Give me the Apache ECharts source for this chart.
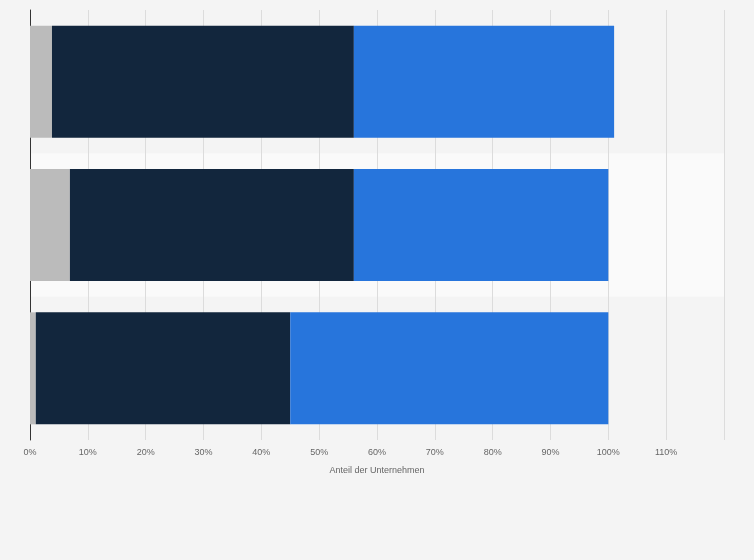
<!DOCTYPE html>
<html><head><meta charset="utf-8">
<script src="https://cdn.jsdelivr.net/npm/echarts@6/dist/echarts.min.js"></script>
<style>html,body{margin:0;padding:0;background:#f4f4f4}#c{width:754px;height:560px}</style>
</head><body><div id="c"></div>
<script>
const categories = ['C', 'B', 'A'];
const greyVals = [1, 6.9, 3.8];
const navyVals = [44, 49.1, 52.2];
const blueVals = [55, 44, 45];
const tickMax = 120;

const chart = echarts.init(document.getElementById('c'));
chart.setOption({
  backgroundColor: '#f4f4f4',
  animation: false,
  grid: { left: 30, right: 30, top: 10, bottom: 120 },
  xAxis: {
    type: 'value', min: 0, max: tickMax, interval: 10,
    name: 'Anteil der Unternehmen', nameLocation: 'middle', nameGap: 26,
    nameTextStyle: { color: '#666', fontSize: 9, fontFamily: 'Arial, Liberation Sans' },
    axisLabel: { color: '#666', fontSize: 9, fontFamily: 'Arial, Liberation Sans',
      formatter: v => v >= tickMax ? '' : v + '%' },
    splitLine: { lineStyle: { color: '#dcdcdc' } },
    axisLine: { show: false }, axisTick: { show: false }
  },
  yAxis: {
    type: 'category', data: categories,
    axisLabel: { show: false }, axisTick: { show: false },
    axisLine: { show: true, lineStyle: { color: '#333' } },
    splitArea: { show: true, areaStyle: { color: ['rgba(0,0,0,0)', '#fafafa'] } }
  },
  series: [
    { type: 'bar', stack: 's', data: greyVals, itemStyle: { color: '#bbbbbb' }, barWidth: 112 },
    { type: 'bar', stack: 's', data: navyVals, itemStyle: { color: '#12263d' } },
    { type: 'bar', stack: 's', data: blueVals, itemStyle: { color: '#2775dc' } }
  ]
});
</script></body></html>
